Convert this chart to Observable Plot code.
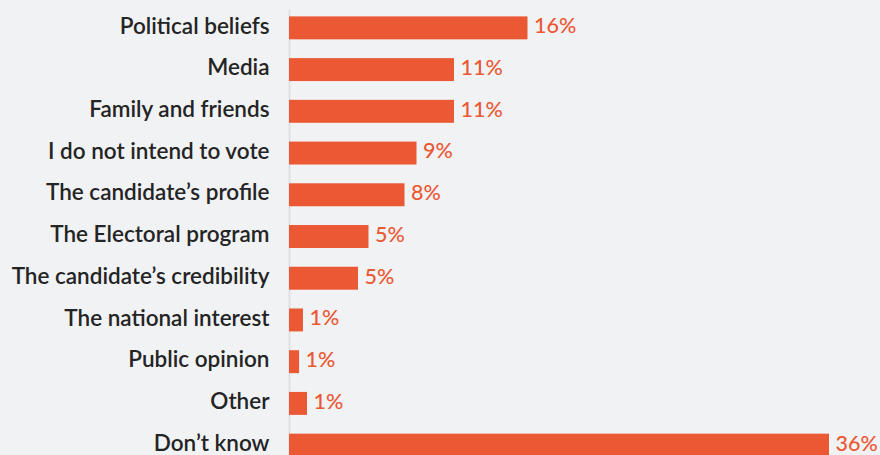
<!DOCTYPE html>
<html>
<head>
<meta charset="utf-8">
<script src="https://cdn.jsdelivr.net/npm/d3@7"></script>
<script src="https://cdn.jsdelivr.net/npm/@observablehq/plot@0.6"></script>
<style>
  html, body { margin: 0; padding: 0; background: #f1f2f4; overflow: hidden; }
  #chart { width: 880px; height: 455px; overflow: hidden; }
</style>
</head>
<body>
<div id="chart"></div>
<script>
const categories = [
  "Political beliefs",
  "Media",
  "Family and friends",
  "I do not intend to vote",
  "The candidate’s profile",
  "The Electoral program",
  "The candidate’s credibility",
  "The national interest",
  "Public opinion",
  "Other",
  "Don’t know"
];
const values = [15.9, 11.0, 11.0, 8.5, 7.7, 5.3, 4.6, 0.93, 0.67, 1.2, 36.0];
const valueLabels = ["16%", "11%", "11%", "9%", "8%", "5%", "5%", "1%", "1%", "1%", "36%"];

const data = categories.map((c, i) => ({category: c, value: values[i], label: valueLabels[i]}));

const chart = Plot.plot({
  width: 880,
  height: 466,
  marginLeft: 289,
  marginRight: 51,
  marginTop: 7,
  marginBottom: 0,
  style: {background: "#f1f2f4", fontFamily: "Lato, sans-serif", overflow: "visible"},
  x: {domain: [0, 36], axis: null},
  y: {domain: categories, paddingInner: 0.45, paddingOuter: 0.225, round: false, label: null},
  marks: [
    Plot.ruleX([0], {stroke: "#dfe0e3", strokeWidth: 2, insetTop: 3}),
    Plot.barX(data, {x: "value", y: "category", fill: "#eb5834"}),
    Plot.text(data, {x: "value", y: "category", text: "label", textAnchor: "start", dx: 6, dy: -2, fill: "#eb5834", fontSize: 21.5, fontWeight: 500}),
    Plot.axisY({tickSize: 0, tickPadding: 20, dy: -2, fontSize: 22.5, fontWeight: 600, fill: "#242424", label: null})
  ]
});
document.getElementById("chart").appendChild(chart);
</script>
</body>
</html>
